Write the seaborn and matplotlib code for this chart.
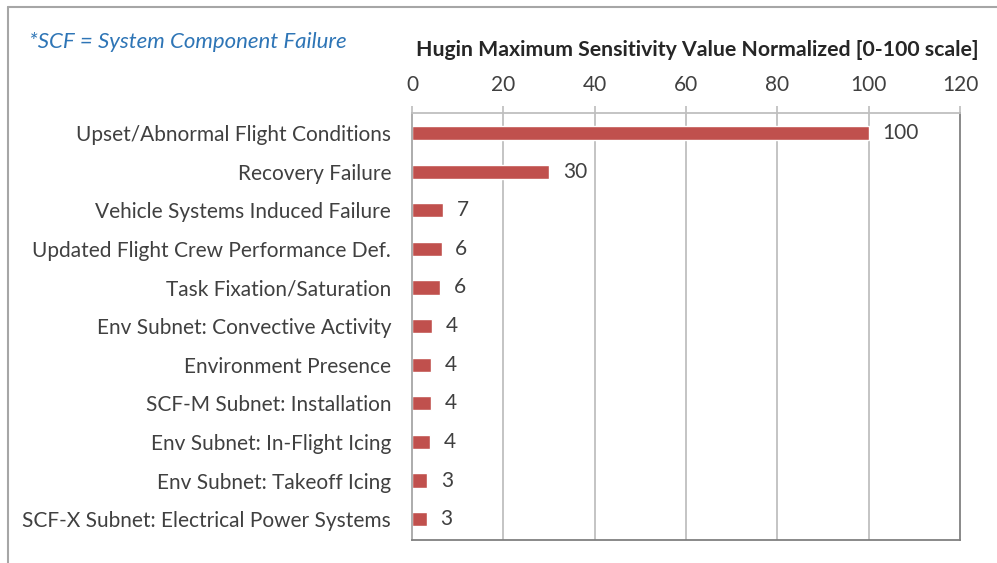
import matplotlib.pyplot as plt
import numpy as np
import pandas as pd
import seaborn as sns
from matplotlib.lines import Line2D

# Data
categories = [
    "Upset/Abnormal Flight Conditions",
    "Recovery Failure",
    "Vehicle Systems Induced Failure",
    "Updated Flight Crew Performance Def.",
    "Task Fixation/Saturation",
    "Env Subnet: Convective Activity",
    "Environment Presence",
    "SCF-M Subnet: Installation",
    "Env Subnet: In-Flight Icing",
    "Env Subnet: Takeoff Icing",
    "SCF-X Subnet: Electrical Power Systems",
]
values = [100, 30, 6.8, 6.5, 6.2, 4.3, 4.1, 4.1, 3.9, 3.4, 3.2]
x_ticks = [0, 20, 40, 60, 80, 100, 120]

df = pd.DataFrame({"Factor": categories, "Sensitivity": values})

sns.set_theme(style="white")
plt.rcParams["font.family"] = ["Lato", "DejaVu Sans"]

text_color = "#404040"
bar_color = "#C0504D"

fig = plt.figure(figsize=(9.97, 5.63), dpi=100)
ax = fig.add_axes([0.4132, 0.0409, 0.5497, 0.7584])

sns.barplot(
    data=df,
    x="Sensitivity",
    y="Factor",
    orient="h",
    color=bar_color,
    saturation=1,
    width=0.37,
    ax=ax,
)

ax.set_xlim(0, 120)
ax.set_ylim(10.54, -0.52)
ax.set_xticks(x_ticks)
ax.xaxis.tick_top()
ax.tick_params(axis="x", which="major", direction="out", length=5,
               color="#BFBFBF", labelsize=15, labelcolor=text_color, pad=8)
ax.tick_params(axis="y", which="major", length=0, labelsize=15,
               labelcolor=text_color, pad=15)
ax.set_yticks(np.arange(-0.5, len(categories), 1.0), minor=True)
ax.tick_params(axis="y", which="minor", direction="out", length=5,
               color="#A6A6A6", width=1)
ax.set_xlabel("")
ax.set_ylabel("")

# vertical gridlines
for t in x_ticks[1:-1]:
    ax.axvline(t, color="#BFBFBF", lw=1.3, zorder=0)

for side, col in [("top", "#BFBFBF"), ("left", "#A6A6A6"),
                  ("bottom", "#808080"), ("right", "#808080")]:
    ax.spines[side].set_visible(True)
    ax.spines[side].set_color(col)
    ax.spines[side].set_linewidth(1.3)

# value labels
for i, v in enumerate(values):
    ax.text(v + 3.0, i, f"{int(round(v))}", va="center", ha="left",
            fontsize=15, color=text_color)

fig.text(0.699, 0.911, "Hugin Maximum Sensitivity Value Normalized [0-100 scale]",
         ha="center", va="center", fontsize=15.3, fontweight="bold", color="#262626")
fig.text(0.029, 0.925, "*SCF = System Component Failure", ha="left", va="center",
         fontsize=16, style="italic", color="#2E75B6")

# outer frame
fig.add_artist(Line2D([0.008, 0.008], [0, 0.988], transform=fig.transFigure,
                      color="#A6A6A6", lw=1.5))
fig.add_artist(Line2D([0.008, 1.0], [0.988, 0.988], transform=fig.transFigure,
                      color="#A6A6A6", lw=1.5))

fig.savefig("out.png", dpi=100)
